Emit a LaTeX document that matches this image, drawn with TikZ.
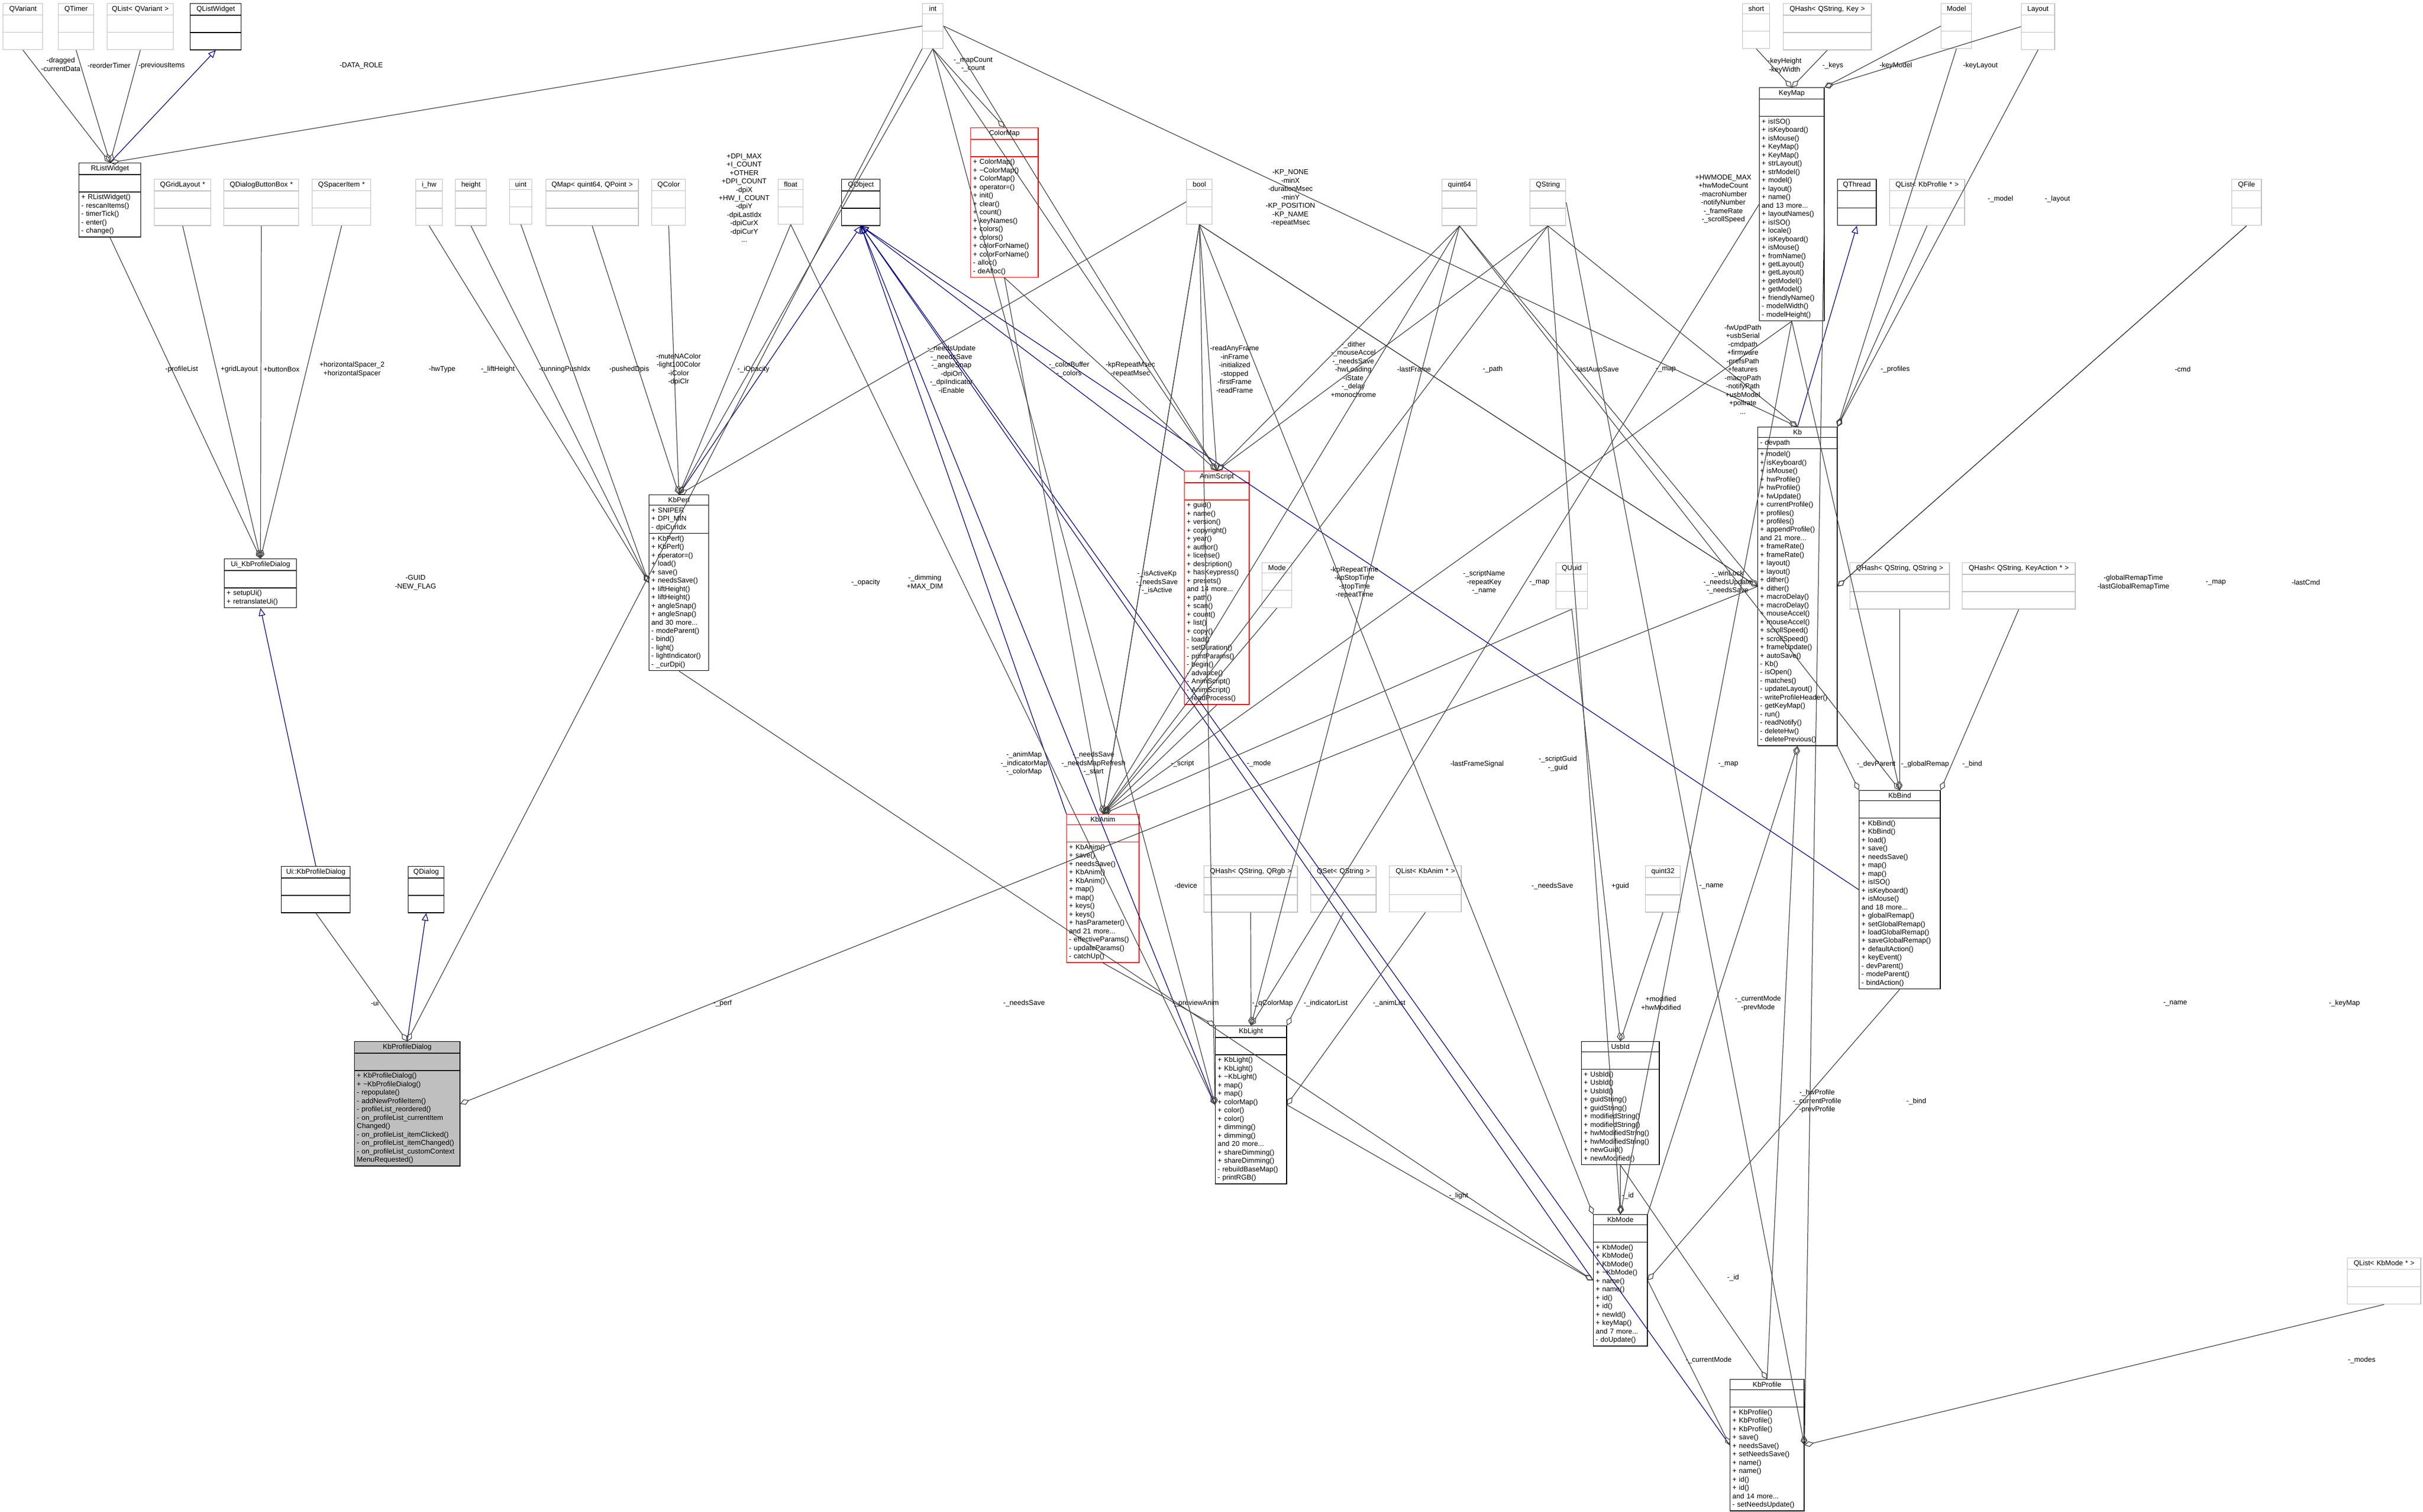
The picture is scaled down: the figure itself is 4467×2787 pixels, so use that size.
\documentclass[tikz,border=0pt]{standalone}
\usepackage{fontspec}
\setmainfont{Liberation Sans}
\usetikzlibrary{shapes.multipart,arrows.meta}
\tikzset{%
  every cls/.style={
    rectangle split,
    rectangle split parts=3,
    draw=black,
    line width=0.4pt,
    anchor=north west,
    align=left,
    inner xsep=1.2pt,
    inner ysep=1.1pt,
    rectangle split empty part height=3.4pt,
    rectangle split empty part depth=1.2pt,
    font=\fontsize{3.7}{4.4}\selectfont
  },
  cls ext/.style={draw=black!25},
  cls red/.style={draw=red},
  cls main/.style={fill=black!25},
  uses/.style={draw=black!75, line width=0.35pt, -{Diamond[open,length=5pt,width=3pt]}},
  inherit/.style={draw=blue!50!black, line width=0.35pt, -{Triangle[open,length=4pt,width=3.5pt]}},
  role/.style={align=center, font=\fontsize{3.7}{4.4}\selectfont, inner sep=0.5pt}
}
\newcommand{\ctitle}[1]{\centering #1\par}

\begin{document}
\begin{tikzpicture}[x=0.01cm, y=-0.01cm]
\useasboundingbox (0,0) rectangle (4467,2787);

% plain types
\foreach \n/\x/\y/\w/\t in {qvariant/5/6/73/QVariant, qtimer/107/6/65/QTimer,
  qlistvariant/197/6/122/QList< QVariant >, int/1700/6/38/int, short/3212/6/50/short,
  qhashkey/3287/6/162/{QHash< QString, Key >}, model/3578/6/56/Model, layout/3726/6/61/Layout,
  qgridlayout/284/330/104/QGridLayout *, qbuttonbox/412/330/138/QDialogButtonBox *,
  qspacer/575/330/108/QSpacerItem *, ihw/766/330/49/i\_hw, height/839/330/57/height,
  uint/939/330/41/uint, qmap/1006/330/170/{QMap< quint64, QPoint >}, qcolor/1201/330/62/QColor,
  float/1434/330/46/float, bool/2187/330/47/bool, quint64/2658/330/64/quint64,
  qstring/2820/330/66/QString, qlistprofile/3483/330/138/QList< KbProfile * >,
  qfile/4114/330/54/QFile, mode/2326/1037/55/Mode, quuid/2868/1037/58/QUuid,
  qhashstr/3410/1037/183/{QHash< QString, QString >},
  qhashaction/3617/1037/208/{QHash< QString, KeyAction * >},
  qhashrgb/2219/1596/172/{QHash< QString, QRgb >}, qset/2416/1596/120/QSet< QString >,
  qlistanim/2561/1596/132/QList< KbAnim * >, quint32/3033/1596/64/quint32,
  qlistmode/4327/2319/135/QList< KbMode * >}
  \node [every cls/.try, cls ext, text width=\w*0.1mm-2.4pt] (\n) at (\x,\y) {\ctitle{\t}};

% base classes
\foreach \n/\x/\y/\w/\t in {qlistwidget/350/6/94/QListWidget, qobject/1551/330/71/QObject,
  qthread/3387/330/71/QThread, uikbpd/518/1597/127/Ui::KbProfileDialog, qdialog/752/1597/66/QDialog}
  \node [every cls/.try, text width=\w*0.1mm-2.4pt] (\n) at (\x,\y) {\ctitle{\t}};

% classes with members
\node [every cls/.try, text width=11.4mm-2.4pt] (rlw) at (145,300) {\ctitle{RListWidget}
  \nodepart{three}+ RListWidget()\\- rescanItems()\\- timerTick()\\- enter()\\- change()};
\node [every cls/.try, text width=13.3mm-2.4pt] (uikbd) at (413,1030) {\ctitle{Ui\_KbProfileDialog}
  \nodepart{three}+ setupUi()\\+ retranslateUi()};
\node [every cls/.try, text width=11mm-2.4pt] (kbperf) at (1196,912) {\ctitle{KbPerf}
  \nodepart{two}+ SNIPER\\+ DPI\_MIN\\- dpiCurIdx
  \nodepart{three}+ KbPerf()\\+ KbPerf()\\+ operator=()\\+ load()\\+ save()\\+ needsSave()\\+ liftHeight()\\+ liftHeight()\\+ angleSnap()\\+ angleSnap()\\and 30 more...\\- modeParent()\\- bind()\\- light()\\- lightIndicator()\\- \_curDpi()};
\node [every cls/.try, cls red, text width=12.4mm-2.4pt] (colormap) at (1789,235) {\ctitle{ColorMap}
  \nodepart{three}+ ColorMap()\\+ \textasciitilde ColorMap()\\+ ColorMap()\\+ operator=()\\+ init()\\+ clear()\\+ count()\\+ keyNames()\\+ colors()\\+ colors()\\+ colorForName()\\+ colorForName()\\- alloc()\\- deAlloc()};
\node [every cls/.try, cls red, text width=11.9mm-2.4pt] (animscript) at (2183,868) {\ctitle{AnimScript}
  \nodepart{three}+ guid()\\+ name()\\+ version()\\+ copyright()\\+ year()\\+ author()\\+ license()\\+ description()\\+ hasKeypress()\\+ presets()\\and 14 more...\\+ path()\\+ scan()\\+ count()\\+ list()\\+ copy()\\- load()\\- setDuration()\\- printParams()\\- begin()\\- advance()\\- AnimScript()\\- AnimScript()\\- readProcess()};
\node [every cls/.try, text width=11.9mm-2.4pt] (keymap) at (3243,161) {\ctitle{KeyMap}
  \nodepart{three}+ isISO()\\+ isKeyboard()\\+ isMouse()\\+ KeyMap()\\+ KeyMap()\\+ strLayout()\\+ strModel()\\+ model()\\+ layout()\\+ name()\\and 13 more...\\+ layoutNames()\\+ isISO()\\+ locale()\\+ isKeyboard()\\+ isMouse()\\+ fromName()\\+ getLayout()\\+ getLayout()\\+ getModel()\\+ getModel()\\+ friendlyName()\\- modelWidth()\\- modelHeight()};
\node [every cls/.try, text width=14.6mm-2.4pt] (kb) at (3240,787) {\ctitle{Kb}
  \nodepart{two}- devpath
  \nodepart{three}+ model()\\+ isKeyboard()\\+ isMouse()\\+ hwProfile()\\+ hwProfile()\\+ fwUpdate()\\+ currentProfile()\\+ profiles()\\+ profiles()\\+ appendProfile()\\and 21 more...\\+ frameRate()\\+ frameRate()\\+ layout()\\+ layout()\\+ dither()\\+ dither()\\+ macroDelay()\\+ macroDelay()\\+ mouseAccel()\\+ mouseAccel()\\+ scrollSpeed()\\+ scrollSpeed()\\+ frameUpdate()\\+ autoSave()\\- Kb()\\- isOpen()\\- matches()\\- updateLayout()\\- writeProfileHeader()\\- getKeyMap()\\- run()\\- readNotify()\\- deleteHw()\\- deletePrevious()};
\node [every cls/.try, cls red, text width=13.3mm-2.4pt] (kbanim) at (1966,1501) {\ctitle{KbAnim}
  \nodepart{three}+ KbAnim()\\+ save()\\+ needsSave()\\+ KbAnim()\\+ KbAnim()\\+ map()\\+ map()\\+ keys()\\+ keys()\\+ hasParameter()\\and 21 more...\\- effectiveParams()\\- updateParams()\\- catchUp()};
\node [every cls/.try, text width=14.9mm-2.4pt] (kbbind) at (3427,1457) {\ctitle{KbBind}
  \nodepart{three}+ KbBind()\\+ KbBind()\\+ load()\\+ save()\\+ needsSave()\\+ map()\\+ map()\\+ isISO()\\+ isKeyboard()\\+ isMouse()\\and 18 more...\\+ globalRemap()\\+ setGlobalRemap()\\+ loadGlobalRemap()\\+ saveGlobalRemap()\\+ defaultAction()\\+ keyEvent()\\- devParent()\\- modeParent()\\- bindAction()};
\node [every cls/.try, cls main, text width=19.4mm-2.4pt] (kbpd) at (653,1920) {\ctitle{KbProfileDialog}
  \nodepart{three}+ KbProfileDialog()\\+ \textasciitilde KbProfileDialog()\\- repopulate()\\- addNewProfileItem()\\- profileList\_reordered()\\- on\_profileList\_currentItem\\Changed()\\- on\_profileList\_itemClicked()\\- on\_profileList\_itemChanged()\\- on\_profileList\_customContext\\MenuRequested()};
\node [every cls/.try, text width=13.1mm-2.4pt] (kblight) at (2240,1891) {\ctitle{KbLight}
  \nodepart{three}+ KbLight()\\+ KbLight()\\+ \textasciitilde KbLight()\\+ map()\\+ map()\\+ colorMap()\\+ color()\\+ color()\\+ dimming()\\+ dimming()\\and 20 more...\\+ shareDimming()\\+ shareDimming()\\- rebuildBaseMap()\\- printRGB()};
\node [every cls/.try, text width=14.3mm-2.4pt] (usbid) at (2915,1920) {\ctitle{UsbId}
  \nodepart{three}+ UsbId()\\+ UsbId()\\+ UsbId()\\+ guidString()\\+ guidString()\\+ modifiedString()\\+ modifiedString()\\+ hwModifiedString()\\+ hwModifiedString()\\+ newGuid()\\+ newModified()};
\node [every cls/.try, text width=9.9mm-2.4pt] (kbmode) at (2937,2239) {\ctitle{KbMode}
  \nodepart{three}+ KbMode()\\+ KbMode()\\+ KbMode()\\+ \textasciitilde KbMode()\\+ name()\\+ name()\\+ id()\\+ id()\\+ newId()\\+ keyMap()\\and 7 more...\\- doUpdate()};
\node [every cls/.try, text width=13.6mm-2.4pt] (kbprofile) at (3189,2543) {\ctitle{KbProfile}
  \nodepart{three}+ KbProfile()\\+ KbProfile()\\+ KbProfile()\\+ save()\\+ needsSave()\\+ setNeedsSave()\\+ name()\\+ name()\\+ id()\\+ id()\\and 14 more...\\- setNeedsUpdate()};

% inheritance
\foreach \s/\t in {rlw.north/qlistwidget.south, uikbpd.north/uikbd.south, kbpd.north/qdialog.south,
  kbperf.north/qobject.south, animscript.north west/qobject.south, kbanim.north west/qobject.south,
  kblight.west/qobject.south, kbmode.west/qobject.south, kbbind.west/qobject.south,
  kbprofile.west/qobject.south, kb.north/qthread.south}
  \draw [inherit] (\s) -- (\t);

% members
\foreach \s/\t/\x/\y/\l [count=\i] in {
  qvariant.south/rlw.north/112/119/{-dragged\\-currentData},
  qtimer.south/rlw.north/201/121/{-reorderTimer},
  qlistvariant.south/rlw.north/298/121/{-previousItems},
  int.west/rlw.north/666/121/{-DATA\_ROLE},
  rlw.south/uikbd.north/335/681/{-profileList},
  qgridlayout.south/uikbd.north/441/681/{+gridLayout},
  qbuttonbox.south/uikbd.north/519/681/{+buttonBox},
  qspacer.south/uikbd.north/649/681/{+horizontalSpacer\_2\\+horizontalSpacer},
  uikbpd.south/kbpd.north/691/1850/{-ui},
  int.south west/kbpd.north/766/1074/{-GUID\\-NEW\_FLAG},
  kb.west/kbpd.east/2186/1633/{-device},
  ihw.south/kbperf.west/815/681/{-hwType},
  height.south/kbperf.west/918/681/{-\_liftHeight},
  uint.south/kbperf.west/1041/681/{-runningPushIdx},
  qmap.south/kbperf.north/1160/681/{-pushedDpis},
  qcolor.south/kbperf.north/1251/681/{-muteNAColor\\-light100Color\\-iColor\\-dpiClr},
  float.south/kbperf.north/1389/681/{-\_iOpacity},
  int.south/kbperf.north/1372/365/{+DPI\_MAX\\+I\_COUNT\\+OTHER\\+DPI\_COUNT\\-dpiX\\+HW\_I\_COUNT\\-dpiY\\-dpiLastIdx\\-dpiCurX\\-dpiCurY\\...},
  bool.west/kbperf.north/1754/681/{-\_needsUpdate\\-\_needsSave\\-\_angleSnap\\-dpiOn\\-\_dpiIndicator\\-iEnable},
  int.south/colormap.north/1794/119/{-\_mapCount\\-\_count},
  colormap.south/kbanim.north/1888/1408/{-\_animMap\\-\_indicatorMap\\-\_colorMap},
  colormap.south/animscript.north/1971/681/{-\_colorBuffer\\-\_colors},
  int.south/animscript.north/2084/681/{-kpRepeatMsec\\-repeatMsec},
  int.east/animscript.north/2379/365/{-KP\_NONE\\-minX\\-durationMsec\\-minY\\-KP\_POSITION\\-KP\_NAME\\-repeatMsec},
  bool.south/animscript.north/2276/681/{-readAnyFrame\\-inFrame\\-initialized\\-stopped\\-firstFrame\\-readFrame},
  bool.south/kb.west/2495/681/{-\_dither\\-\_mouseAccel\\-\_needsSave\\-hwLoading\\-iState\\-\_delay\\+monochrome},
  quint64.south/animscript.north/2607/681/{-lastFrame},
  qstring.south/animscript.north/2752/681/{-\_path},
  quint64.south/kb.west/2944/681/{-lastAutoSave},
  keymap.west/kblight.north/3071/681/{-\_map},
  int.east/kb.north/3177/367/{+HWMODE\_MAX\\+hwModeCount\\-macroNumber\\-notifyNumber\\-\_frameRate\\-\_scrollSpeed},
  short.south/keymap.north/3290/121/{-keyHeight\\-keyWidth},
  qhashkey.south/keymap.north/3379/121/{-\_keys},
  model.west/keymap.north east/3495/121/{-keyModel},
  layout.west/keymap.north east/3651/121/{-keyLayout},
  model.south/kb.north east/3688/367/{-\_model},
  layout.south/kb.north east/3793/367/{-\_layout},
  qstring.south/kb.north/3213/681/{-fwUpdPath\\+usbSerial\\-cmdpath\\+firmware\\-prefsPath\\+features\\-macroPath\\-notifyPath\\+usbModel\\+pollrate\\...},
  qlistprofile.south/kb.north east/3494/681/{-\_profiles},
  qfile.south/kb.east/4024/681/{-cmd},
  qfile.south/kb.east/4251/1074/{-lastCmd},
  bool.south/kb.west/3185/1074/{-\_winLock\\-\_needsUpdate\\-\_needsSave},
  quint64.south/kbbind.north/3933/1074/{-globalRemapTime\\-lastGlobalRemapTime},
  keymap.south/kbbind.north/4085/1074/{-\_map},
  bool.south/kbanim.north/2016/1408/{-\_needsSave\\-\_needsMapRefresh\\-\_start},
  animscript.south/kbanim.north/2180/1408/{-\_script},
  mode.south/kbanim.north/2321/1408/{-\_mode},
  bool.south/kbanim.north/2133/1074/{-\_isActiveKp\\-\_needsSave\\-\_isActive},
  quint64.south/kbanim.north/2497/1074/{-kpRepeatTime\\-kpStopTime\\-stopTime\\-repeatTime},
  qstring.south/kbanim.north/2736/1074/{-\_scriptName\\-repeatKey\\-\_name},
  keymap.south/kbanim.north/2838/1074/{-\_map},
  quint64.south/kblight.north/2723/1409/{-lastFrameSignal},
  quuid.south/kbanim.north/2872/1408/{-\_scriptGuid\\-\_guid},
  keymap.south/kbmode.north/3186/1409/{-\_map},
  kbanim.south/kblight.north west/2204/1850/{-\_previewAnim},
  qhashrgb.south/kblight.north/2346/1850/{-\_qColorMap},
  qset.south/kblight.north east/2444/1850/{-\_indicatorList},
  qlistanim.south/kblight.east/2561/1850/{-\_animList},
  float.south/kblight.west/1596/1074/{-\_opacity},
  int.south/kblight.west/1705/1074/{-\_dimming\\+MAX\_DIM},
  bool.south/kblight.west/1888/1850/{-\_needsSave},
  kbperf.south/kbmode.west/1332/1850/{-\_perf},
  kblight.east/kbmode.west/2689/2205/{-\_light},
  usbid.south/kbmode.north/3001/2205/{-\_id},
  bool.south/kbmode.north west/2862/1634/{-\_needsSave},
  quuid.south/usbid.north/2987/1634/{+guid},
  quint32.south/usbid.north/3062/1850/{+modified\\+hwModified},
  qstring.south/kbmode.north/3155/1634/{-\_name},
  kbmode.north east/kb.south/3241/1850/{-\_currentMode\\-prevMode},
  kbbind.south/kbmode.east/3533/2031/{-\_bind},
  kb.south east/kbbind.north west/3459/1409/{-\_devParent},
  qhashstr.south/kbbind.north/3549/1409/{-\_globalRemap},
  qhashaction.south/kbbind.north east/3636/1409/{-\_bind},
  kbprofile.north/kb.south/3350/2031/{-\_hwProfile\\-\_currentProfile\\-prevProfile},
  usbid.south/kbprofile.north/3195/2356/{-\_id},
  kbmode.east/kbprofile.west/3150/2508/{-\_currentMode},
  qstring.east/kbprofile.east/4010/1850/{-\_name},
  keymap.east/kbprofile.east/4322/1850/{-\_keyMap},
  qlistmode.south/kbprofile.east/4354/2508/{-\_modes}}
{
  \draw [uses] (\s) -- (\t);
  \node [role] (role-\i) at (\x,\y) {\l};
}

\end{tikzpicture}
\end{document}
